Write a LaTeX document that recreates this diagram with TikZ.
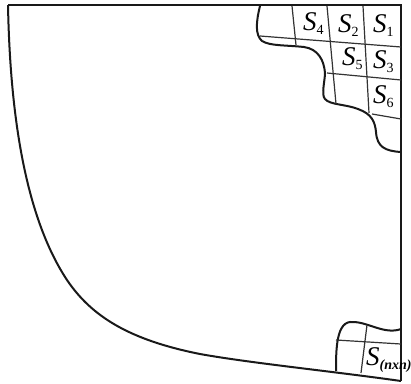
\documentclass[tikz,border=0pt]{standalone}
\usepackage{fontspec}
\setmainfont{Liberation Serif}
\usepackage{tikz}
\newcommand{\cellname}[1]{\textit{S}\raisebox{-4pt}{\fontsize{14}{14}\selectfont #1}}
\begin{document}
\begin{tikzpicture}[
  x=1pt, y=-1pt,
  outline/.style={line width=2pt, black!90},
  gridline/.style={line width=1.2pt, black!80},
  every node/.style={font=\fontsize{27}{27}\selectfont, inner sep=0pt, anchor=base west}
]
\useasboundingbox (0, 0) rectangle (411, 383);

% outer shape
\draw[outline, line join=miter] (8, 5) -- (401, 5) -- (401, 381);
\draw[outline] (8, 5)
  .. controls (10, 110) and (24, 215) .. (67, 280)
  .. controls (92, 317) and (130, 340) .. (200, 354)
  .. controls (250, 363) and (330, 371) .. (401, 381);

% cut at the top
\draw[outline] (260, 6)
  .. controls (256, 22) and (255, 35) .. (262, 41)
  .. controls (270, 46) and (285, 45) .. (304, 47)
  .. controls (318, 49) and (324, 60) .. (325, 73)
  .. controls (325, 80) and (321, 95) .. (325, 99)
  .. controls (330, 105) and (345, 104) .. (358, 109)
  .. controls (372, 114) and (375, 122) .. (376, 132)
  .. controls (377, 147) and (385, 151) .. (401, 152);

% cut at the bottom
\draw[outline] (336, 371)
  .. controls (336, 350) and (336, 320) .. (353, 322)
  .. controls (368, 322) and (385, 335) .. (401, 329);

% grid, top
\draw[gridline] (260, 36) -- (401, 47);
\draw[gridline] (327, 73) -- (401, 80);
\draw[gridline] (372, 114) -- (401, 119);
\draw[gridline] (292, 6) -- (296, 45);
\draw[gridline] (327, 6) -- (336, 104);
\draw[gridline] (363, 6) -- (369, 113);

% grid, bottom
\draw[gridline] (336, 340) -- (401, 344);
\draw[gridline] (367, 325) -- (361, 373);

% labels
\node (s4) at (303, 30) {\cellname{4}};
\node (s2) at (338, 32) {\cellname{2}};
\node (s1) at (373, 32) {\cellname{1}};
\node (s5) at (342, 65) {\cellname{5}};
\node (s3) at (373, 68) {\cellname{3}};
\node (s6) at (373, 103) {\cellname{6}};
\node (snn) at (366, 365) {\textit{S}\raisebox{-4pt}{\fontsize{14}{14}\selectfont\textbf{\textit{(nxn)}}}};
\end{tikzpicture}
\end{document}
